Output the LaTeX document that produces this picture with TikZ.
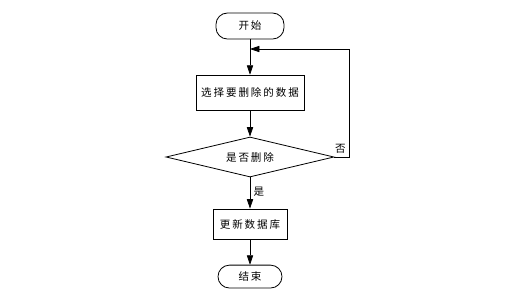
\documentclass[tikz,border=0pt]{standalone}
\usepackage{fontspec}
\newfontfamily\cjk[LetterSpace=18]{Noto Sans CJK SC}
\usepackage{tikz}
\usetikzlibrary{arrows.meta,positioning,shapes.geometric,calc}

\begin{document}
\begin{tikzpicture}[
  every node/.style={font=\cjk\fontsize{10.5}{12}\selectfont},
  terminal/.style={draw, rectangle, rounded corners=0.4cm, thick, inner sep=0pt, fill=white},
  procbox/.style={draw, rectangle, thick, inner sep=0pt, fill=white},
  decision/.style={draw, diamond, thick, inner sep=0pt, aspect=4.2, fill=white},
  line width=0.7pt,
  >={Triangle[length=0.33cm,width=0.22cm]}
]
\useasboundingbox (-8.75,0.91) rectangle (9.135,-9.38);

\node[terminal, minimum width=2.38cm, minimum height=0.91cm] (start) at (0,0) {开始};
\node[procbox, minimum width=3.78cm, minimum height=1.22cm]  (select) at (0,-2.33) {选择要删除的数据};
\node[decision, minimum width=5.88cm, minimum height=1.4cm]  (ask) at (0,-4.585) {是否删除};
\node[procbox, minimum width=2.59cm, minimum height=1.05cm]  (update) at (0,-6.93) {更新数据库};
\node[terminal, minimum width=2.24cm, minimum height=0.8cm]  (stop) at (0,-8.77) {结束};

\coordinate (merge) at (0,-0.805);

\draw[->] (start) -- (select);
\draw[->] (select) -- (ask);
\draw[->] (ask) -- node[right, pos=0.45]{是} (update);
\draw[->] (update) -- (stop);

\draw[->] (ask.east) -- node[above, pos=0.4]{否} ++(0.525,0) |- (merge);
\end{tikzpicture}
\end{document}
